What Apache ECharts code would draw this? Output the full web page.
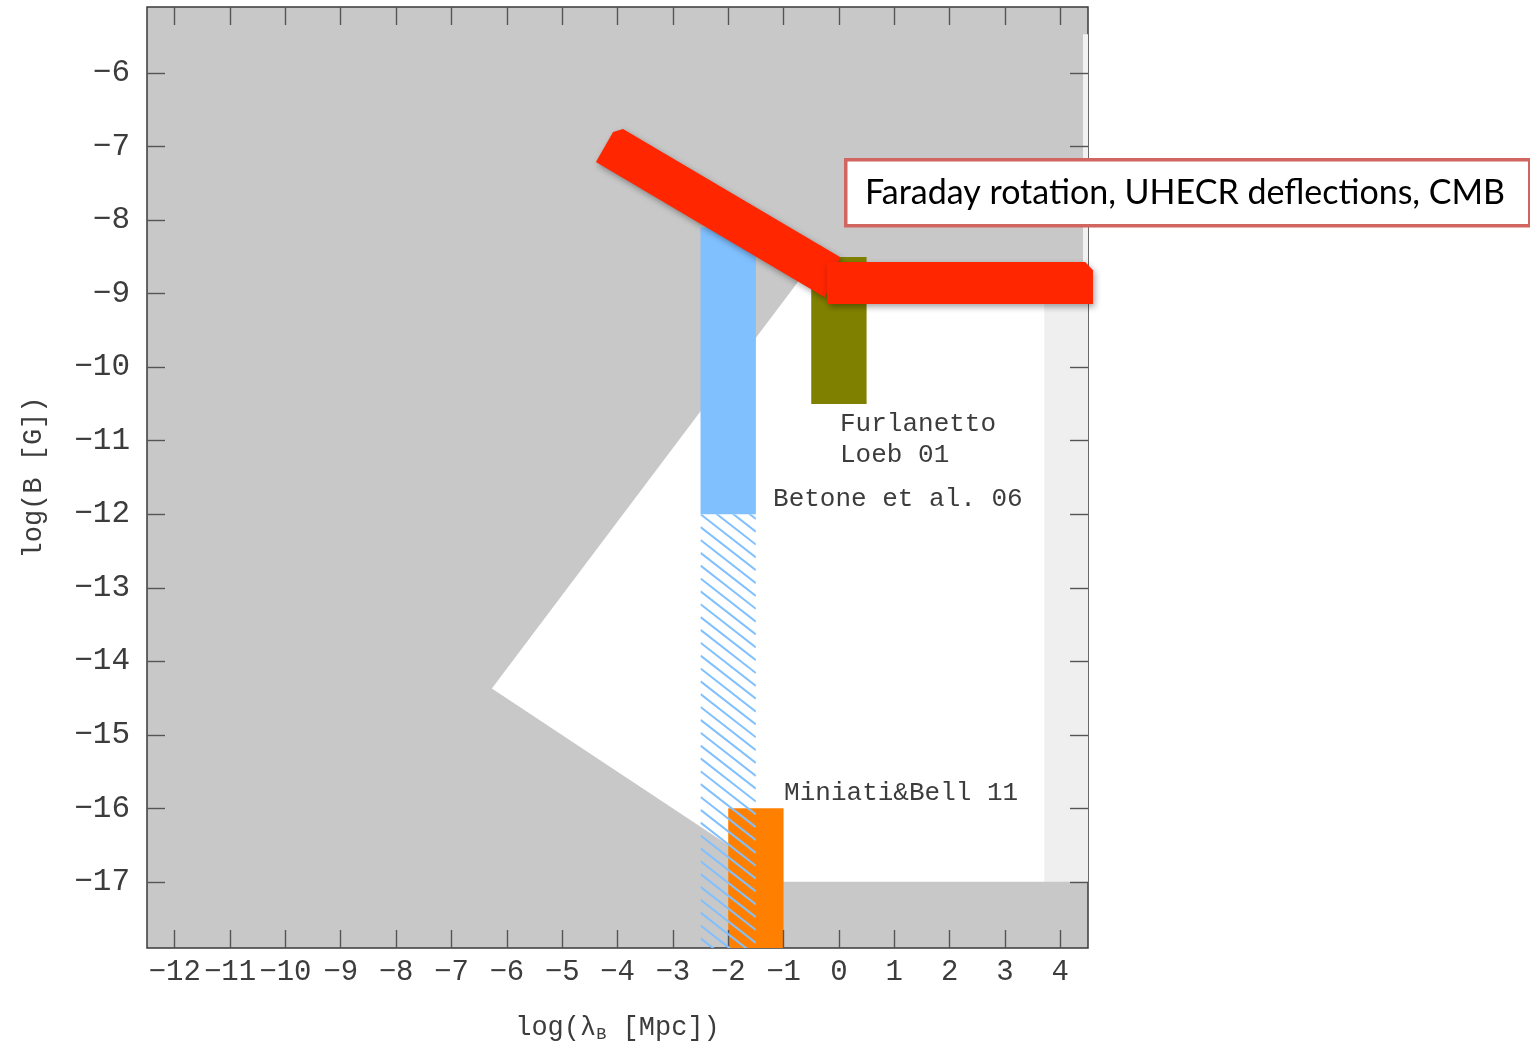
<!DOCTYPE html>
<html>
<head>
<meta charset="utf-8">
<script src="https://cdn.jsdelivr.net/npm/echarts@6/dist/echarts.min.js"></script>
<style>
  html, body { margin: 0; padding: 0; background: #ffffff; }
  #chart { width: 1530px; height: 1049px; }
</style>
</head>
<body>
<div id="chart"></div>
<script>
// ---------- data ----------
const xRange = [-12.5, 4.5];
const yRange = [-17.9, -5.1];
const xTickValues = [-12, -11, -10, -9, -8, -7, -6, -5, -4, -3, -2, -1, 0, 1, 2, 3, 4];
const yTickValues = [-17, -16, -15, -14, -13, -12, -11, -10, -9, -8, -7, -6];

// allowed (white) region in (log lambda, log B)
const allowedRegion = [[-6.27, -14.37], [-0.70, -8.8], [3.72, -8.8], [3.72, -17], [-1, -17]];
const lightStrip = [[3.72, -8.8], [4.5, -8.8], [4.5, -17], [3.72, -17]];
const edgeStrip = [[4.41, -5.47], [4.5, -5.47], [4.5, -8.8], [4.41, -8.8]];

// constraint boxes: [xMin, xMax, yMin, yMax]
const betoneSolid = [-2.5, -1.5, -12, -8.1];
const betoneHatched = [-2.5, -1.5, -17.9, -12];
const furlanettoBox = [-0.5, 0.5, -10.5, -8.5];
const miniatiBox = [-2, -1, -17.9, -16];

// red band (Faraday rotation, UHECR deflections, CMB)
const redDiagonal = [[-3.90, -6.76], [-4.08, -6.80], [-4.39, -7.21], [-0.25, -9.05], [0.02, -8.50]];
const redFlat = [[-0.215, -8.57], [4.45, -8.57], [4.59, -8.68], [4.59, -9.14], [-0.215, -9.14]];

// text labels
const labelTexts = ['Furlanetto', 'Loeb 01', 'Betone et al. 06', 'Miniati&Bell 11'];
const labelX = [0.02, 0.02, -1.19, -0.99];
const labelY = [-10.78, -11.2, -11.79, -15.79];

const annotationText = 'Faraday rotation, UHECR deflections, CMB';

// ---------- helpers ----------
const serifMono = '"Liberation Mono", "DejaVu Sans Mono", monospace';
const minus = v => (v < 0 ? '\u2212' + Math.abs(v) : String(v));

function polySeries(pts, style, z, clip) {
  return {
    type: 'custom', z: z, clip: clip, silent: true, animation: false,
    xAxisIndex: 0, yAxisIndex: 0,
    data: [[pts[0][0], pts[0][1]]],
    renderItem: function (params, api) {
      return {
        type: 'polygon',
        shape: { points: pts.map(p => api.coord(p)) },
        style: Object.assign({}, style)
      };
    }
  };
}
function boxPts(b) {
  return [[b[0], b[2]], [b[1], b[2]], [b[1], b[3]], [b[0], b[3]]];
}

const hatchSeries = {
  type: 'custom', z: 6, clip: true, silent: true, animation: false,
  data: [[betoneHatched[0], betoneHatched[2]]],
  renderItem: function (params, api) {
    const b = betoneHatched;
    const tl = api.coord([b[0], b[3]]);
    const br = api.coord([b[1], b[2]]);
    const w = br[0] - tl[0], h = br[1] - tl[1];
    const slope = 0.78, sp = 12.85;
    const children = [];
    const kStart = -Math.ceil(slope * w / sp) - 1;
    for (let k = kStart; tl[1] + k * sp < br[1]; k++) {
      const yy = tl[1] + k * sp;
      children.push({
        type: 'line',
        shape: { x1: tl[0], y1: yy, x2: br[0], y2: yy + slope * w },
        style: { stroke: '#80c0ff', lineWidth: 2 }
      });
    }
    return {
      type: 'group',
      clipPath: { type: 'rect', shape: { x: tl[0], y: tl[1], width: w, height: h } },
      children: children
    };
  }
};

const labelSeries = {
  type: 'custom', z: 8, clip: false, silent: true, animation: false,
  data: labelTexts.map((t, i) => [labelX[i], labelY[i], i]),
  renderItem: function (params, api) {
    const i = api.value(2);
    const p = api.coord([api.value(0), api.value(1)]);
    return {
      type: 'text',
      x: p[0], y: p[1],
      style: {
        text: labelTexts[i],
        font: '26px ' + serifMono,
        fill: '#3c3c3c',
        textAlign: 'left',
        textVerticalAlign: 'middle'
      }
    };
  }
};

const redStyle = {
  fill: '#ff2600',
  shadowBlur: 6, shadowColor: 'rgba(0,0,0,0.35)', shadowOffsetX: 2, shadowOffsetY: 3
};

const tickStyle = { show: true, inside: true, length: 18, lineStyle: { color: '#555', width: 1.4 } };
const noLine = { show: false, onZero: false };

const option = {
  animation: false,
  backgroundColor: '#ffffff',
  grid: {
    left: 147, top: 7, width: 941, height: 941,
    show: true, backgroundColor: '#c8c8c8', borderColor: '#3a3a3a', borderWidth: 1.5
  },
  xAxis: [{
    type: 'value', min: xRange[0], max: xRange[1], position: 'bottom', z: 5,
    splitLine: { show: false }, axisLine: noLine,
    axisTick: Object.assign({ customValues: xTickValues }, tickStyle),
    axisLabel: {
      customValues: xTickValues, formatter: minus, margin: 10,
      showMinLabel: true, showMaxLabel: true, hideOverlap: false,
      fontFamily: serifMono, fontSize: 29, color: '#3c3c3c'
    },
    name: 'log(λ{sub|B} [Mpc])', nameLocation: 'middle', nameGap: 64,
    nameTextStyle: {
      fontFamily: serifMono, fontSize: 27, color: '#3c3c3c',
      rich: { sub: { fontFamily: serifMono, fontSize: 17, color: '#3c3c3c', verticalAlign: 'bottom', padding: [14, 0, 0, 0] } }
    }
  }, {
    type: 'value', min: xRange[0], max: xRange[1], position: 'top', z: 5,
    splitLine: { show: false }, axisLine: noLine,
    axisTick: Object.assign({ customValues: xTickValues }, tickStyle),
    axisLabel: { show: false }
  }],
  yAxis: [{
    type: 'value', min: yRange[0], max: yRange[1], position: 'left', z: 5,
    splitLine: { show: false }, axisLine: noLine,
    axisTick: Object.assign({ customValues: yTickValues }, tickStyle),
    axisLabel: {
      customValues: yTickValues, formatter: minus, margin: 17,
      showMinLabel: true, showMaxLabel: true, hideOverlap: false,
      fontFamily: serifMono, fontSize: 31, color: '#3c3c3c'
    },
    name: 'log(B [G])', nameLocation: 'middle', nameGap: 100, nameRotate: 90,
    nameTextStyle: { fontFamily: serifMono, fontSize: 27, color: '#3c3c3c' }
  }, {
    type: 'value', min: yRange[0], max: yRange[1], position: 'right', z: 5,
    splitLine: { show: false }, axisLine: noLine,
    axisTick: Object.assign({ customValues: yTickValues }, tickStyle),
    axisLabel: { show: false }
  }],
  series: [
    polySeries(allowedRegion, { fill: '#ffffff' }, 1, true),
    polySeries(lightStrip, { fill: '#efefef' }, 1, true),
    polySeries(edgeStrip, { fill: '#f2f2f2' }, 1, true),
    polySeries(boxPts(betoneSolid), { fill: '#80c0ff' }, 3, true),
    polySeries(boxPts(furlanettoBox), { fill: '#808000' }, 3, true),
    polySeries(boxPts(miniatiBox), { fill: '#ff8000' }, 3, true),
    hatchSeries,
    labelSeries,
    polySeries(redDiagonal, redStyle, 10, false),
    polySeries(redFlat, redStyle, 11, false)
  ],
  graphic: [{
    type: 'rect', left: 844, top: 158, z: 20,
    shape: { width: 684, height: 66 },
    style: { fill: '#ffffff', stroke: '#d0665f', lineWidth: 3.5 }
  }, {
    type: 'text', left: 865, top: 176, z: 21,
    style: { text: annotationText, font: '34px Lato, "Open Sans", sans-serif', fill: '#000000' }
  }]
};

const chart = echarts.init(document.getElementById('chart'), null, { renderer: 'canvas' });
chart.setOption(option);
</script>
</body>
</html>
